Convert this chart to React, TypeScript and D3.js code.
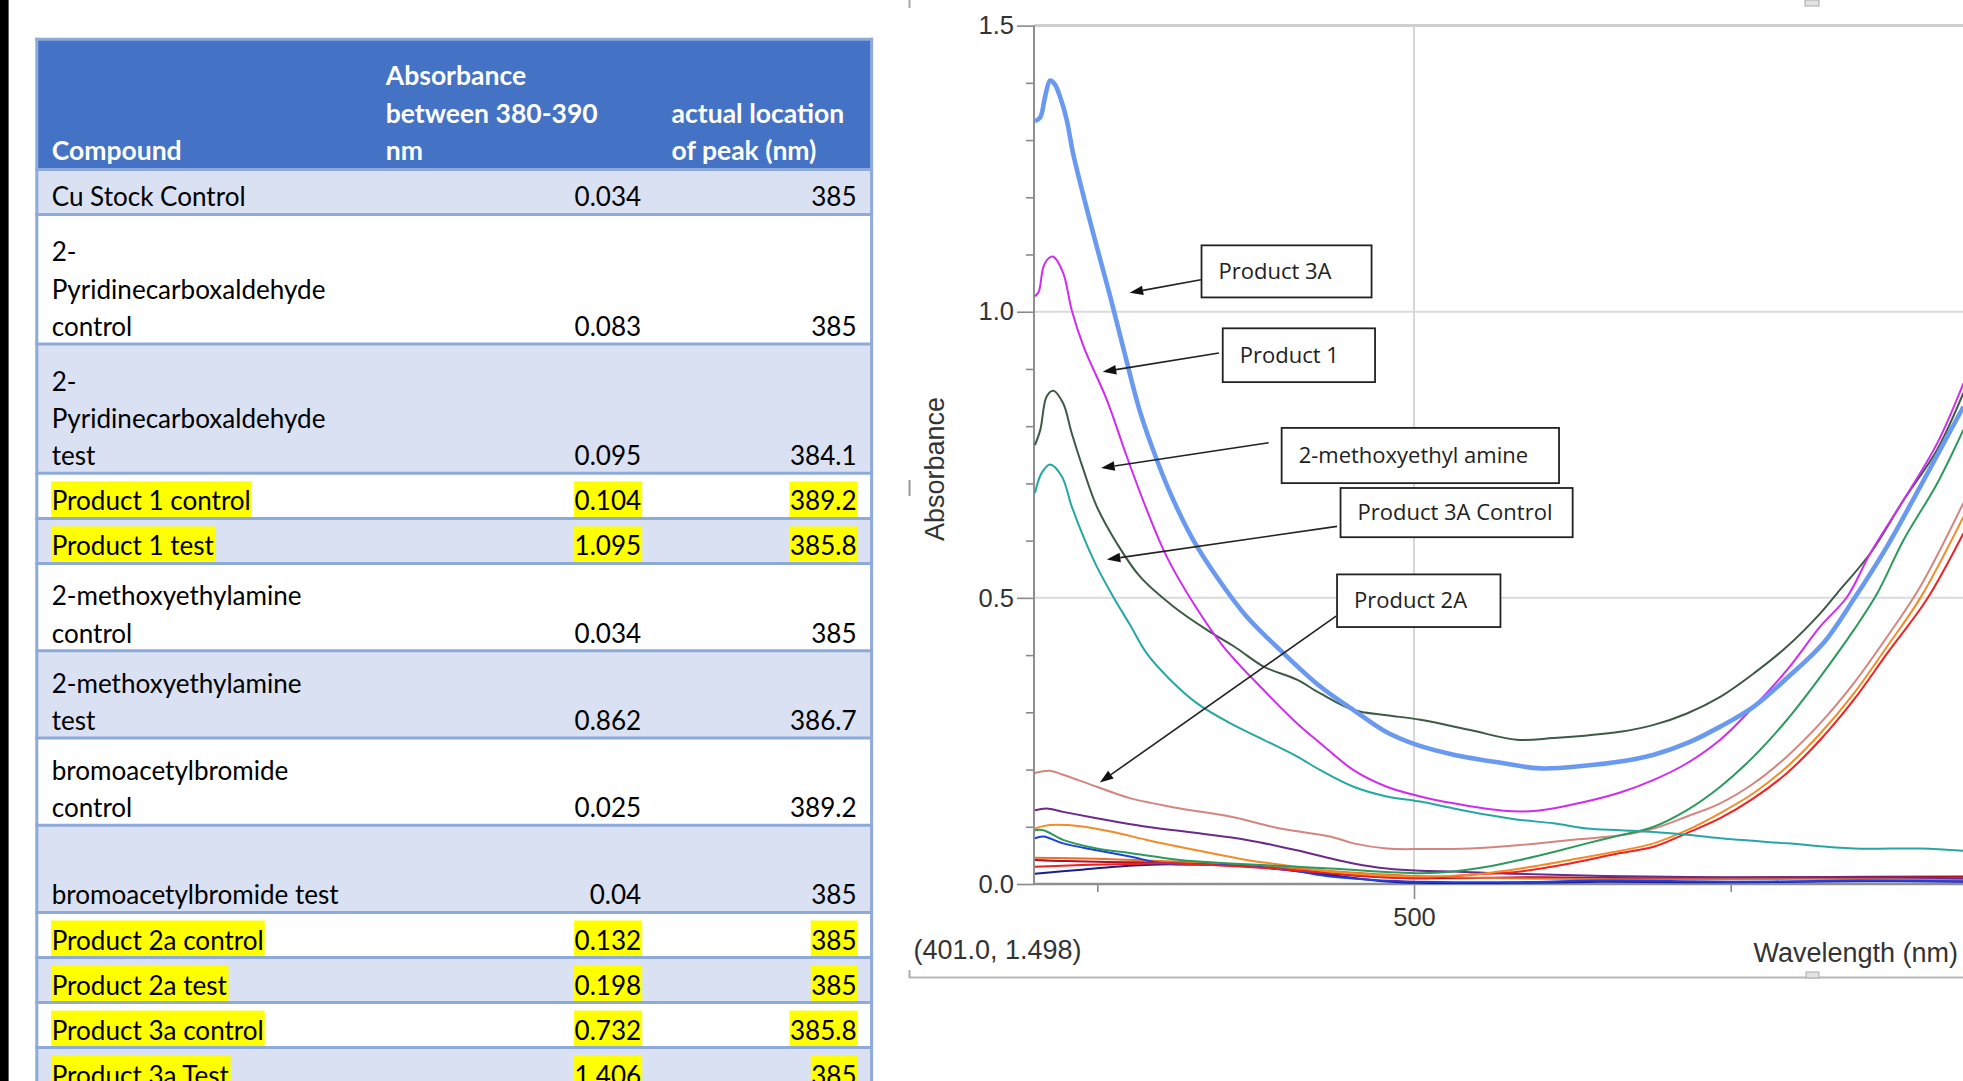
import React, { useEffect, useRef } from 'react';
import * as d3 from 'd3';

const W = 1963;
const H = 1081;

// ---------- Table data ----------
const headerCompound = ['Compound'];
const headerAbsorbance = ['Absorbance', 'between 380-390', 'nm'];
const headerPeak = ['actual location', 'of peak (nm)'];

const compoundLines: string[][] = [
  ['Cu Stock Control'],
  ['2-', 'Pyridinecarboxaldehyde', 'control'],
  ['2-', 'Pyridinecarboxaldehyde', 'test'],
  ['Product 1 control'],
  ['Product 1 test'],
  ['2-methoxyethylamine', 'control'],
  ['2-methoxyethylamine', 'test'],
  ['bromoacetylbromide', 'control'],
  ['', 'bromoacetylbromide test'],
  ['Product 2a control'],
  ['Product 2a test'],
  ['Product 3a control'],
  ['Product 3a Test'],
];
const absorbanceValues = ['0.034', '0.083', '0.095', '0.104', '1.095', '0.034', '0.862', '0.025', '0.04', '0.132', '0.198', '0.732', '1.406'];
const peakValues = ['385', '385', '384.1', '389.2', '385.8', '385', '386.7', '389.2', '385', '385', '385', '385.8', '385'];
const highlightedRows = [false, false, false, true, true, false, false, false, false, true, true, true, true];

// ---------- Spectrum data: [wavelength nm, absorbance] ----------
const product3A: [number, number][] = [
  [380.3, 1.333], [382, 1.34], [383.5, 1.376], [385.1, 1.404], [386.5, 1.398], [388.2, 1.376], [390.3, 1.336],
  [392.4, 1.275], [395.6, 1.203], [399.8, 1.114], [404, 1.028], [408.5, 0.93], [413.5, 0.825], [418.8, 0.741],
  [424, 0.671], [430.3, 0.601], [437.7, 0.537], [447.2, 0.467], [457.7, 0.409], [470.4, 0.345], [480.9, 0.304],
  [491.4, 0.265], [500.9, 0.243], [512.5, 0.226], [528.3, 0.211], [539.9, 0.202], [554.6, 0.207], [565.1, 0.214],
  [575.7, 0.226], [586.2, 0.246], [596.7, 0.275], [607.3, 0.31], [617.8, 0.36], [629.3, 0.421], [638.8, 0.497],
  [649.4, 0.59], [659.9, 0.695], [673.5, 0.834],
];
const product1: [number, number][] = [
  [380.3, 1.027], [381.5, 1.035], [383, 1.079], [384.7, 1.094], [386.1, 1.096], [389.2, 1.068], [391.9, 1.003],
  [395.6, 0.94], [403, 0.846], [409.3, 0.747], [415.6, 0.654], [421.9, 0.572], [430.3, 0.491], [439.8, 0.415],
  [452.5, 0.339], [463, 0.281], [470.4, 0.246], [480.9, 0.199], [491.4, 0.17], [502, 0.153], [512.5, 0.141],
  [528.3, 0.128], [538.8, 0.128], [549.3, 0.138], [565.1, 0.16], [575.7, 0.182], [586.2, 0.211], [596.7, 0.252],
  [607.3, 0.31], [617.8, 0.374], [628.3, 0.45], [636.8, 0.502], [644.1, 0.578], [654.6, 0.671], [665.2, 0.77],
  [673.5, 0.875],
];
const methoxyethylAmine: [number, number][] = [
  [380.3, 0.767], [382, 0.794], [384, 0.852], [386.1, 0.862], [389.2, 0.84], [391.9, 0.788], [395.6, 0.724],
  [399.8, 0.66], [406.1, 0.596], [413.5, 0.537], [424, 0.485], [434.6, 0.444], [444, 0.412], [452.5, 0.38],
  [463, 0.357], [470.4, 0.333], [480.9, 0.304], [491.4, 0.295], [502, 0.287], [517.8, 0.269], [532.5, 0.252],
  [544.1, 0.255], [565.1, 0.266], [575.7, 0.278], [586.2, 0.298], [596.7, 0.327], [607.3, 0.368], [617.8, 0.415],
  [628.3, 0.473], [633.6, 0.508], [644.1, 0.578], [654.6, 0.671], [665.2, 0.759], [673.5, 0.858],
];
const product3AControl: [number, number][] = [
  [380.3, 0.683], [382.4, 0.718], [385.1, 0.733], [388.8, 0.712], [391.9, 0.66], [395.6, 0.607], [399.8, 0.555],
  [405, 0.502], [410.3, 0.453], [415.6, 0.403], [423, 0.357], [431.4, 0.316], [441.9, 0.281], [452.5, 0.252],
  [463, 0.223], [470.4, 0.199], [480.9, 0.17], [491.4, 0.153], [502, 0.144], [512.5, 0.132], [523, 0.121],
  [533.5, 0.112], [544.1, 0.106], [554.6, 0.097], [565.1, 0.094], [575.7, 0.091], [586.2, 0.086], [596.7, 0.08],
  [617.8, 0.071], [638.9, 0.062], [659.9, 0.062], [673.5, 0.058],
];
const greenTrace: [number, number][] = [
  [380.3, 0.094], [383, 0.094], [389.2, 0.077], [399.8, 0.062], [410.3, 0.054], [426.1, 0.042], [441.9, 0.036],
  [473.5, 0.027], [502, 0.019], [512.5, 0.022], [523, 0.03], [533.5, 0.042], [544.1, 0.056], [554.6, 0.071],
  [565.1, 0.085], [575.7, 0.1], [586.2, 0.129], [596.7, 0.17], [607.3, 0.223], [617.8, 0.287], [628.3, 0.362],
  [638.9, 0.444], [646.3, 0.508], [654.6, 0.601], [665.2, 0.7], [673.5, 0.794],
];
const product2A: [number, number][] = [
  [380.3, 0.194], [385, 0.198], [389.2, 0.191], [399.8, 0.17], [410.3, 0.15], [426.1, 0.132], [441.9, 0.118],
  [457.7, 0.097], [473.5, 0.083], [480.9, 0.071], [491.4, 0.062], [502, 0.061], [517.8, 0.062], [533.5, 0.068],
  [549.3, 0.077], [565.1, 0.085], [575.7, 0.097], [586.2, 0.118], [596.7, 0.141], [607.3, 0.176], [617.8, 0.223],
  [628.3, 0.281], [638.9, 0.351], [649.4, 0.432], [659.9, 0.52], [673.5, 0.666],
];
const orangeTrace: [number, number][] = [
  [380.3, 0.097], [385, 0.103], [394.5, 0.101], [405, 0.091], [415.6, 0.077], [431.4, 0.059], [447.2, 0.042],
  [463, 0.03], [473.5, 0.022], [502, 0.013], [517.8, 0.016], [533.5, 0.027], [549.3, 0.042], [565.1, 0.058],
  [575.7, 0.071], [586.2, 0.094], [596.7, 0.124], [607.3, 0.159], [617.8, 0.205], [628.3, 0.263], [638.9, 0.333],
  [649.4, 0.415], [659.9, 0.5], [673.5, 0.642],
];
const redTrace: [number, number][] = [
  [380.3, 0.03], [395, 0.033], [410, 0.035], [425, 0.036], [440, 0.032], [455, 0.027], [473.5, 0.019],
  [490, 0.012], [502, 0.01], [517.8, 0.016], [533.5, 0.022], [549.3, 0.036], [565.1, 0.054], [575.7, 0.065],
  [586.2, 0.089], [596.7, 0.115], [607.3, 0.15], [617.8, 0.194], [628.3, 0.252], [638.9, 0.322], [649.4, 0.403],
  [661.9, 0.497], [673.5, 0.613],
];
const purpleTrace: [number, number][] = [
  [380.3, 0.129], [384, 0.132], [389.2, 0.126], [399.8, 0.115], [415.6, 0.1], [431.4, 0.089], [447.2, 0.077],
  [463, 0.059], [473.5, 0.045], [480.9, 0.036], [491.4, 0.027], [502, 0.023], [512.5, 0.022], [530, 0.018],
  [560, 0.014], [600, 0.012], [640, 0.012], [673.5, 0.01],
];
const blueTrace: [number, number][] = [
  [380.3, 0.08], [383, 0.083], [389.2, 0.071], [399.8, 0.059], [410.3, 0.048], [420.8, 0.036], [440, 0.033],
  [460, 0.025], [473.5, 0.013], [490, 0.006], [502, 0.004], [530, 0.003], [560, 0.006], [600, 0.004],
  [640, 0.006], [673.5, 0.005],
];
const navyTrace: [number, number][] = [
  [380.3, 0.018], [395, 0.025], [410, 0.032], [430, 0.035], [450, 0.03], [470, 0.018], [490, 0.005],
  [502, 0.002], [530, 0.002], [560, 0.004], [600, 0.003], [640, 0.005], [673.5, 0.004],
];
const darkRedTrace: [number, number][] = [
  [380.3, 0.042], [390, 0.04], [410, 0.038], [430, 0.037], [450, 0.03], [470, 0.02], [490, 0.012],
  [510, 0.01], [540, 0.012], [580, 0.01], [620, 0.012], [673.5, 0.013],
];
const lowOrangeTrace: [number, number][] = [
  [380.3, 0.046], [400, 0.044], [420, 0.04], [440, 0.036], [460, 0.028], [480, 0.02], [500, 0.014],
  [530, 0.01], [570, 0.008], [620, 0.009], [673.5, 0.008],
];

const yMajorTicks = [0, 0.5, 1.0, 1.5];
const yMinorTicks = [0.1, 0.2, 0.3, 0.4, 0.6, 0.7, 0.8, 0.9, 1.1, 1.2, 1.3, 1.4];
const xMajorTicks = [500];
const xMinorTicks = [400, 600];
const annotationLabels = ['Product 3A', 'Product 1', '2-methoxyethyl amine', 'Product 3A Control', 'Product 2A'];
const cursorReadout = '(401.0, 1.498)';

// Layout / style (not data)
const seriesStyles: { data: [number, number][]; color: string; width: number }[] = [
  { data: navyTrace, color: '#1c1c8c', width: 2 },
  { data: darkRedTrace, color: '#b0102c', width: 2 },
  { data: lowOrangeTrace, color: '#e8702a', width: 2 },
  { data: blueTrace, color: '#1f3fe0', width: 2 },
  { data: purpleTrace, color: '#6a2a8c', width: 2 },
  { data: redTrace, color: '#ee2222', width: 2 },
  { data: orangeTrace, color: '#f28c28', width: 2 },
  { data: product2A, color: '#d4857f', width: 2 },
  { data: greenTrace, color: '#2c9a5c', width: 2 },
  { data: product3AControl, color: '#25a7a2', width: 2 },
  { data: methoxyethylAmine, color: '#3d5a45', width: 2 },
  { data: product1, color: '#d02cf0', width: 2 },
  { data: product3A, color: '#6a9af0', width: 4.6 },
];

// annotation geometry in data coordinates: box [nm0, nm1, A top, A bottom], arrow start, arrow tip
const annotationGeometry = [
  { box: [432.9, 486.6, 1.116, 1.025], from: [432.7, 1.056], to: [410.2, 1.033] },
  { box: [439.6, 487.7, 0.971, 0.877], from: [438.4, 0.928], to: [401.7, 0.895] },
  { box: [458.2, 545.8, 0.797, 0.7005], from: [454.1, 0.771], to: [401.2, 0.727] },
  { box: [476.8, 550.1, 0.692, 0.606], from: [475.7, 0.625], to: [403.0, 0.567] },
  { box: [475.7, 527.3, 0.541, 0.449], from: [475.4, 0.468], to: [400.8, 0.1775] },
];

function fitFont(svg: any, family: string, weight: number, ref: string, target: number, guess: number) {
  const t = svg.append('text').attr('font-family', family).attr('font-weight', weight).attr('font-size', guess).text(ref);
  const w = (t.node() as SVGTextElement).getComputedTextLength();
  t.remove();
  return w > 0 ? (guess * target) / w : guess;
}

export default function App() {
  const ref = useRef<SVGSVGElement>(null);

  useEffect(() => {
    const svg = d3.select(ref.current as SVGSVGElement);
    svg.selectAll('*').remove();

    svg.append('rect').attr('x', 0).attr('y', 0).attr('width', W).attr('height', H).attr('fill', '#fff');
    svg.append('rect').attr('x', 0).attr('y', 0).attr('width', 8.6).attr('height', H).attr('fill', '#000');

    // ================= TABLE =================
    const tFont = "Lato, 'Open Sans', sans-serif";
    const bodySize = fitFont(svg, tFont, 400, 'Cu Stock Control', 194, 26);
    const headSize = fitFont(svg, tFont, 700, 'between 380-390', 212, 26);

    const tableLeft = 36.8;
    const tableRight = 871.6;
    const headerTop = 39.3;
    const headerBottom = 169.4;
    const lineGap = 37.4;
    const col1X = 51.7;
    const col2Right = 641.2;
    const col3Right = 856.6;
    const col2HeadX = 385.8;
    const col3HeadX = 671.6;
    const borderColor = '#8eaadb';

    const table = svg.append('g');
    const fills = table.append('g');
    const highlights = table.append('g');
    const texts = table.append('g');
    const borders = table.append('g');

    fills.append('rect').attr('x', tableLeft).attr('y', headerTop).attr('width', tableRight - tableLeft)
      .attr('height', headerBottom - headerTop).attr('fill', '#4472c4');

    const headBase = headerBottom - 9.4;
    const headText = (lines: string[], x: number) => {
      lines.forEach((s, i) => {
        texts.append('text').attr('x', x).attr('y', headBase - (lines.length - 1 - i) * lineGap)
          .attr('font-family', tFont).attr('font-weight', 700).attr('font-size', headSize)
          .attr('fill', '#fff').text(s);
      });
    };
    headText(headerCompound, col1X);
    headText(headerAbsorbance, col2HeadX);
    headText(headerPeak, col3HeadX);

    const rowBottoms: number[] = [headerTop, headerBottom];
    let yTop = headerBottom;
    compoundLines.forEach((lines, r) => {
      const h = 2.85 + 42.2 * lines.length;
      const bottom = yTop + h;
      if (r % 2 === 0) {
        fills.append('rect').attr('x', tableLeft).attr('y', yTop).attr('width', tableRight - tableLeft)
          .attr('height', h).attr('fill', '#d9e1f2');
      }
      const base = bottom - 8;
      const hl = highlightedRows[r];
      const addText = (s: string, x: number, y: number, anchor: string) => {
        if (!s) return;
        const t = texts.append('text').attr('x', x).attr('y', y).attr('text-anchor', anchor)
          .attr('font-family', tFont).attr('font-size', bodySize).attr('fill', '#000').text(s);
        if (hl) {
          const bb = (t.node() as SVGTextElement).getBBox();
          highlights.append('rect').attr('x', bb.x - 0.5).attr('y', y - 29)
            .attr('width', bb.width + 1.5).attr('height', bottom - 1.5 - (y - 29)).attr('fill', '#ffff00');
        }
      };
      lines.forEach((s, i) => addText(s, col1X, base - (lines.length - 1 - i) * lineGap, 'start'));
      addText(absorbanceValues[r], col2Right, base, 'end');
      addText(peakValues[r], col3Right, base, 'end');
      rowBottoms.push(bottom);
      yTop = bottom;
    });

    rowBottoms.forEach((yy) => {
      borders.append('line').attr('x1', tableLeft - 1.5).attr('x2', tableRight + 1.5).attr('y1', yy).attr('y2', yy)
        .attr('stroke', borderColor).attr('stroke-width', 3);
    });
    [tableLeft, tableRight].forEach((xx) => {
      borders.append('line').attr('x1', xx).attr('x2', xx).attr('y1', headerTop - 1.5).attr('y2', H)
        .attr('stroke', borderColor).attr('stroke-width', 3);
    });

    // ================= CHART =================
    const x = d3.scaleLinear().domain([380, 800]).range([1034, 1034 + 420 * 3.1667]);
    const y = d3.scaleLinear().domain([0, 1.5]).range([884, 25.6]);
    const plotRight = W;
    const aFont = "'Liberation Sans', Arial, sans-serif";
    const axisSize = fitFont(svg, aFont, 400, 'Wavelength (nm)', 204.7, 26);

    const chart = svg.append('g');

    // frame remnants of the pasted plot object
    chart.append('line').attr('x1', 909.5).attr('x2', 909.5).attr('y1', 0).attr('y2', 8).attr('stroke', '#aaa').attr('stroke-width', 2);
    chart.append('line').attr('x1', 909.5).attr('x2', 909.5).attr('y1', 480).attr('y2', 496).attr('stroke', '#999').attr('stroke-width', 2);
    chart.append('line').attr('x1', 909.5).attr('x2', plotRight).attr('y1', 977.5).attr('y2', 977.5).attr('stroke', '#b5b5b5').attr('stroke-width', 2);
    chart.append('line').attr('x1', 909.5).attr('x2', 909.5).attr('y1', 970).attr('y2', 978).attr('stroke', '#aaa').attr('stroke-width', 2);
    chart.append('rect').attr('x', 1805).attr('y', 0).attr('width', 14).attr('height', 6).attr('fill', '#e2e2e2').attr('stroke', '#aaa').attr('stroke-width', 1);
    chart.append('rect').attr('x', 1806).attr('y', 972).attr('width', 13).attr('height', 6).attr('fill', '#e2e2e2').attr('stroke', '#aaa').attr('stroke-width', 1);

    // gridlines
    const grid = chart.append('g');
    [0.5, 1.0].forEach((v) => {
      grid.append('line').attr('x1', x(380)).attr('x2', plotRight).attr('y1', y(v)).attr('y2', y(v))
        .attr('stroke', '#dadada').attr('stroke-width', 2);
    });
    grid.append('line').attr('x1', x(380)).attr('x2', plotRight).attr('y1', y(1.5)).attr('y2', y(1.5))
      .attr('stroke', '#cfcfcf').attr('stroke-width', 3);
    grid.append('line').attr('x1', x(500)).attr('x2', x(500)).attr('y1', y(1.5)).attr('y2', y(0))
      .attr('stroke', '#d6d6d6').attr('stroke-width', 2);

    // axes
    const yMajor = chart.append('g').attr('transform', `translate(${x(380)},0)`)
      .call(d3.axisLeft(y).tickValues(yMajorTicks).tickSize(17).tickPadding(3).tickFormat(d3.format('.1f')) as any);
    const yMinor = chart.append('g').attr('transform', `translate(${x(380)},0)`)
      .call(d3.axisLeft(y).tickValues(yMinorTicks).tickSize(8).tickFormat(() => '') as any);
    const xMajor = chart.append('g').attr('transform', `translate(0,${y(0)})`)
      .call(d3.axisBottom(x).tickValues(xMajorTicks).tickSize(15).tickPadding(9).tickFormat(d3.format('d')) as any);
    const xMinor = chart.append('g').attr('transform', `translate(0,${y(0)})`)
      .call(d3.axisBottom(x).tickValues(xMinorTicks).tickSize(8).tickFormat(() => '') as any);
    [yMajor, yMinor, xMajor, xMinor].forEach((g) => {
      g.select('.domain').remove();
      g.selectAll('line').attr('stroke', '#8a8a8a').attr('stroke-width', 1.6);
      g.selectAll('text').attr('font-family', aFont).attr('font-size', 25.5).attr('fill', '#333');
    });

    chart.append('line').attr('x1', x(380)).attr('x2', x(380)).attr('y1', y(1.5)).attr('y2', y(0))
      .attr('stroke', '#8f8f8f').attr('stroke-width', 2);
    chart.append('line').attr('x1', x(380)).attr('x2', plotRight).attr('y1', y(0)).attr('y2', y(0))
      .attr('stroke', '#8f8f8f').attr('stroke-width', 2.5);

    // curves
    const clipId = 'plotclip';
    svg.append('defs').append('clipPath').attr('id', clipId).append('rect')
      .attr('x', x(380)).attr('y', y(1.5)).attr('width', plotRight - x(380)).attr('height', y(0) - y(1.5));
    const lineGen = d3.line<[number, number]>().x((d) => x(d[0])).y((d) => y(d[1])).curve(d3.curveCatmullRom.alpha(0.5));
    const curves = chart.append('g').attr('clip-path', `url(#${clipId})`);
    seriesStyles.forEach((s) => {
      curves.append('path').attr('d', lineGen(s.data) as string).attr('fill', 'none')
        .attr('stroke', s.color).attr('stroke-width', s.width).attr('stroke-linejoin', 'round');
    });

    // annotations
    const bFont = "'Open Sans', 'Noto Sans', sans-serif";
    const boxSize = fitFont(svg, bFont, 400, '2-methoxyethyl amine', 229.5, 22);
    const ann = chart.append('g');
    annotationGeometry.forEach((g, i) => {
      const [n0, n1, a0, a1] = g.box;
      const bx = x(n0), by = y(a0), bw = x(n1) - x(n0), bh = y(a1) - y(a0);
      const sx = x(g.from[0]), sy = y(g.from[1]);
      const tx = x(g.to[0]), ty = y(g.to[1]);
      const len = Math.hypot(tx - sx, ty - sy);
      const ux = (tx - sx) / len, uy = (ty - sy) / len;
      const headLen = 13.5, headHalf = 4.8;
      const baseX = tx - ux * headLen, baseY = ty - uy * headLen;
      ann.append('line').attr('x1', sx).attr('y1', sy).attr('x2', baseX).attr('y2', baseY)
        .attr('stroke', '#222').attr('stroke-width', 1.6);
      ann.append('path')
        .attr('d', `M${tx},${ty}L${baseX - uy * headHalf},${baseY + ux * headHalf}L${baseX + uy * headHalf},${baseY - ux * headHalf}Z`)
        .attr('fill', '#111');
      ann.append('rect').attr('x', bx).attr('y', by).attr('width', bw).attr('height', bh)
        .attr('fill', '#fff').attr('stroke', '#222').attr('stroke-width', 1.8);
      ann.append('text').attr('x', bx + 17).attr('y', by + bh / 2 + 7.5)
        .attr('font-family', bFont).attr('font-size', boxSize).attr('fill', '#222').text(annotationLabels[i]);
    });

    // axis titles
    chart.append('text').attr('transform', `translate(944,469) rotate(-90)`).attr('text-anchor', 'middle')
      .attr('font-family', aFont).attr('font-size', axisSize).attr('fill', '#333').text('Absorbance');
    chart.append('text').attr('x', 1958).attr('y', 962).attr('text-anchor', 'end')
      .attr('font-family', aFont).attr('font-size', axisSize).attr('fill', '#333').text('Wavelength (nm)');
    chart.append('text').attr('x', 913.4).attr('y', 959).attr('text-anchor', 'start')
      .attr('font-family', aFont).attr('font-size', axisSize).attr('fill', '#333').text(cursorReadout);
  }, []);

  return (
    <svg ref={ref} width={W} height={H} style={{ position: 'absolute', left: 0, top: 0, display: 'block', background: '#fff' }} />
  );
}
